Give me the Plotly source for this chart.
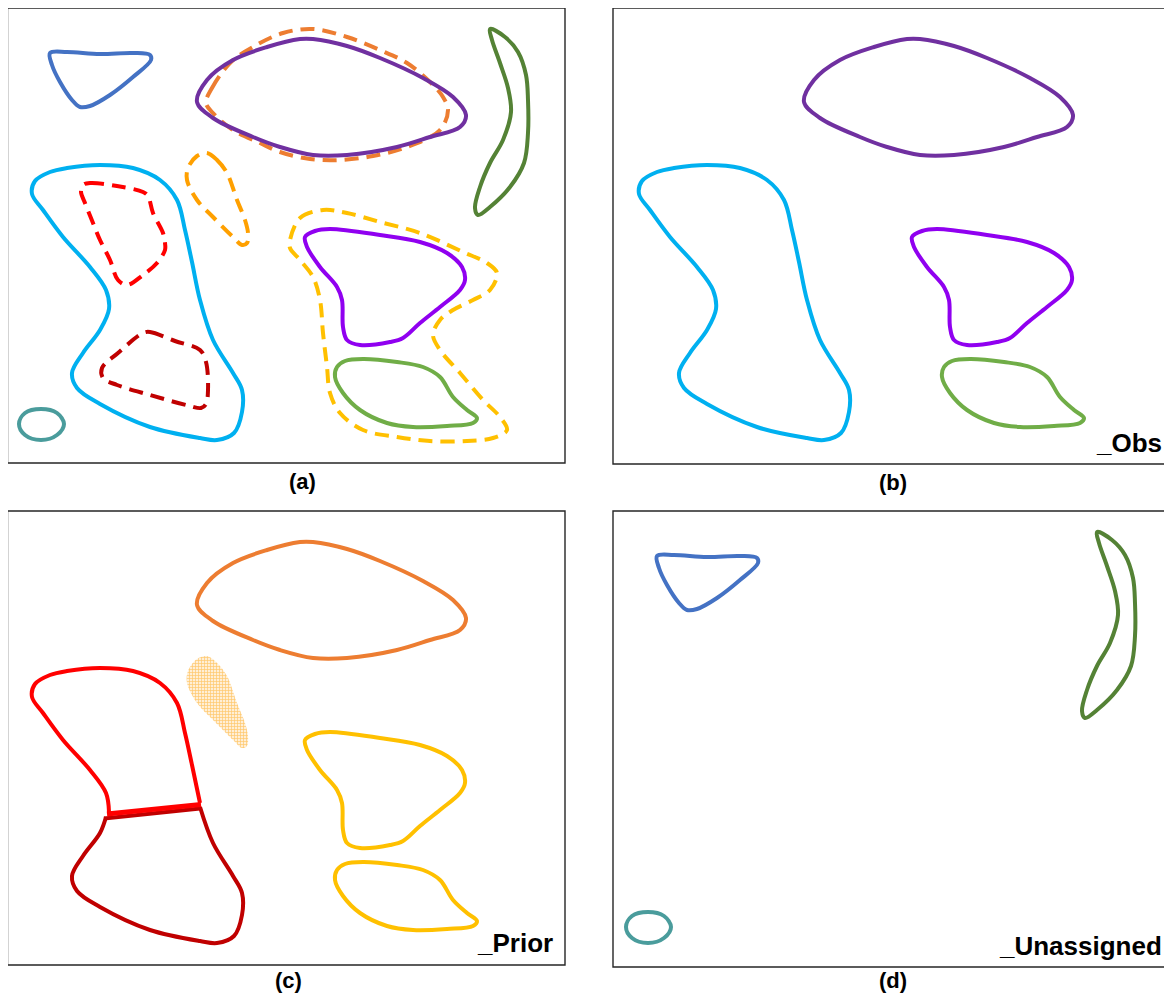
import plotly.graph_objects as go

# ---------------- shape contours (local coordinates of panel (a), pixels) ----------------
BLUE_X = [50, 67, 100, 133, 150, 151, 133, 110, 90, 80, 72, 60, 52]
BLUE_Y = [53, 52, 54, 53, 55, 60, 77, 95, 106, 107, 100, 82, 65]

PURPLE_BIG_X = [197, 207, 233, 267, 300, 313, 347, 380, 423, 453, 466, 460, 430, 397, 347, 313, 280, 253, 213]
PURPLE_BIG_Y = [102, 80, 60, 47, 39, 39, 46, 58, 78, 97, 115, 127, 137, 147, 155, 155, 147, 137, 118]

ORANGE_BIG_X = [206, 212, 230, 253, 283, 313, 347, 380, 407, 430, 443, 448, 440, 407, 373, 340, 310, 280, 260, 233, 213]
ORANGE_BIG_Y = [103, 88, 63, 47, 33, 29, 37, 50, 63, 82, 97, 110, 130, 147, 156, 160, 159, 152, 143, 130, 113]

GREEN_LEAF_X = [490, 505, 518, 526, 528, 528, 524, 510, 490, 478, 475, 480, 490, 503, 511, 508, 500, 492]
GREEN_LEAF_Y = [29, 37, 52, 75, 100, 133, 163, 187, 207, 215, 208, 187, 163, 140, 112, 88, 63, 40]

# cyan contour split at the cut: upper part (left cut -> over the top -> right cut)
CYAN_UP_X = [109, 106, 90, 63, 43, 32, 35, 50, 67, 100, 133, 160, 177, 185, 192, 200]
CYAN_UP_Y = [309, 290, 267, 237, 210, 194, 181, 172, 168, 165, 168, 180, 200, 230, 262, 300]
# lower part (right cut -> round the bottom -> left cut)
CYAN_LO_X = [200, 213, 233, 242, 242, 234, 217, 200, 150, 100, 77, 72, 83, 100, 106]
CYAN_LO_Y = [304, 340, 373, 390, 412, 433, 440, 438, 427, 404, 388, 373, 353, 330, 314]

RED_DASH_X = [83, 90, 117, 143, 148, 153, 163, 165, 165, 157, 143, 127, 118, 110, 100, 93, 85, 81]
RED_DASH_Y = [185, 183, 186, 192, 196, 213, 233, 243, 250, 263, 275, 285, 280, 260, 240, 223, 203, 192]

DARKRED_DASH_X = [143, 150, 175, 200, 206, 208, 206, 201, 190, 150, 117, 103, 102, 118]
DARKRED_DASH_Y = [333, 332, 341, 350, 362, 390, 404, 408, 406, 395, 385, 378, 368, 353]

TEAL_X = [19, 25, 41, 57, 64, 57, 41, 25]
TEAL_Y = [424, 413, 409, 413, 424, 435, 440, 435]

ORANGE_BLOB_X = [207, 217, 227, 237, 245, 248, 247, 242, 233, 213, 197, 187, 188, 197]
ORANGE_BLOB_Y = [153, 160, 173, 200, 220, 233, 243, 245, 237, 217, 200, 180, 168, 156]

YELLOW_DASH_X = [290, 300, 323, 347, 380, 420, 463, 487, 497, 490, 473, 453, 440, 433, 440, 460, 483, 500, 507,
                 493, 467, 430, 397, 363, 340, 330, 327, 323, 320, 313, 300, 290]
YELLOW_DASH_Y = [240, 218, 210, 213, 222, 233, 252, 263, 273, 290, 300, 310, 320, 335, 350, 373, 400, 417, 430,
                 438, 441, 441, 437, 430, 413, 393, 367, 333, 300, 277, 260, 248]

VIOLET_X = [305, 315, 330, 380, 420, 447, 462, 465, 460, 440, 420, 403, 390, 360, 347, 343, 342, 337, 320, 307]
VIOLET_Y = [237, 231, 229, 235, 242, 253, 267, 280, 290, 307, 323, 338, 342, 345, 340, 327, 300, 287, 267, 247]

GREEN_LOW_X = [337, 345, 363, 397, 423, 440, 453, 467, 477, 473, 447, 413, 387, 360, 343, 335]
GREEN_LOW_Y = [367, 361, 359, 362, 367, 377, 397, 410, 418, 423, 426, 427, 423, 410, 393, 377]

# cut lines of panel (c)
CUT_RED_X = [107, 201]
CUT_RED_Y = [311, 301.5]
CUT_DARK_X = [104, 200]
CUT_DARK_Y = [315.5, 305.5]

# panels
PANEL_LABELS = ["(a)", "(b)", "(c)", "(d)"]
PANEL_TAGS = ["", "_Obs", "_Prior", "_Unassigned"]

C_BLUE = "#4472C4"
C_PURPLE = "#7030A0"
C_ORANGE = "#ED7D31"
C_DGREEN = "#548235"
C_CYAN = "#00B0F0"
C_RED = "#FF0000"
C_DRED = "#C00000"
C_TEAL = "#4A9C9C"
C_AMBER = "#FFA000"
C_YELLOW = "#FFC000"
C_VIOLET = "#9000F0"
C_LGREEN = "#70AD47"

LW = 4
DASH = "14px,8px"

fig = go.Figure()


def add_closed(xs, ys, dx, dy, color, dash="solid", width=LW):
    px = [x + dx for x in xs] + [xs[0] + dx]
    py = [y + dy for y in ys] + [ys[0] + dy]
    fig.add_trace(go.Scatter(x=px, y=py, mode="lines",
                             line=dict(color=color, width=width, dash=dash, shape="spline", smoothing=1.0),
                             hoverinfo="skip", showlegend=False))


def add_open(xs, ys, dx, dy, color, width=LW, shape="spline"):
    fig.add_trace(go.Scatter(x=[x + dx for x in xs], y=[y + dy for y in ys], mode="lines",
                             line=dict(color=color, width=width, shape=shape, smoothing=1.0),
                             hoverinfo="skip", showlegend=False))


# full cyan contour = upper part + lower part (without duplicated end points)
CYAN_X = CYAN_UP_X + CYAN_LO_X[1:-1]
CYAN_Y = CYAN_UP_Y + CYAN_LO_Y[1:-1]

# ---- panel (a) ----
ax, ay = 0, 0
add_closed(BLUE_X, BLUE_Y, ax, ay, C_BLUE)
add_closed(ORANGE_BIG_X, ORANGE_BIG_Y, ax, ay, C_ORANGE, DASH)
add_closed(PURPLE_BIG_X, PURPLE_BIG_Y, ax, ay, C_PURPLE)
add_closed(GREEN_LEAF_X, GREEN_LEAF_Y, ax, ay, C_DGREEN)
add_closed(CYAN_X, CYAN_Y, ax, ay, C_CYAN)
add_closed(RED_DASH_X, RED_DASH_Y, ax, ay, C_RED, DASH)
add_closed(DARKRED_DASH_X, DARKRED_DASH_Y, ax, ay, C_DRED, DASH)
add_closed(TEAL_X, TEAL_Y, ax, ay, C_TEAL)
add_closed(ORANGE_BLOB_X, ORANGE_BLOB_Y, ax, ay, C_AMBER, DASH)
add_closed(YELLOW_DASH_X, YELLOW_DASH_Y, ax, ay, C_YELLOW, DASH)
add_closed(VIOLET_X, VIOLET_Y, ax, ay, C_VIOLET)
add_closed(GREEN_LOW_X, GREEN_LOW_Y, ax, ay, C_LGREEN)

# ---- panel (b) ----
bx, by = 607, 0
add_closed(PURPLE_BIG_X, PURPLE_BIG_Y, bx, by, C_PURPLE)
add_closed(CYAN_X, CYAN_Y, bx, by, C_CYAN)
add_closed(VIOLET_X, VIOLET_Y, bx, by, C_VIOLET)
add_closed(GREEN_LOW_X, GREEN_LOW_Y, bx, by, C_LGREEN)

# ---- panel (c) ----
cx, cy = 0, 503
add_closed(PURPLE_BIG_X, PURPLE_BIG_Y, cx, cy, C_ORANGE)
add_open(CYAN_UP_X, CYAN_UP_Y, cx, cy, C_RED)
add_open(CYAN_LO_X, CYAN_LO_Y, cx, cy, C_DRED)
add_open(CUT_DARK_X, CUT_DARK_Y, cx, cy, C_DRED, width=4, shape="linear")
add_open(CUT_RED_X, CUT_RED_Y, cx, cy, C_RED, width=5, shape="linear")
fig.add_trace(go.Scatter(
    x=[x + cx for x in ORANGE_BLOB_X] + [ORANGE_BLOB_X[0] + cx],
    y=[y + cy for y in ORANGE_BLOB_Y] + [ORANGE_BLOB_Y[0] + cy],
    mode="lines", fill="toself",
    line=dict(width=0, color="rgba(0,0,0,0)", shape="spline", smoothing=1.0),
    fillcolor="#FFE9C8",
    fillpattern=dict(shape="+", fgcolor="#FFA000", bgcolor="#FFEFD6", size=3, solidity=0.4),
    hoverinfo="skip", showlegend=False))
add_closed(VIOLET_X, VIOLET_Y, cx, cy, C_YELLOW)
add_closed(GREEN_LOW_X, GREEN_LOW_Y, cx, cy, C_YELLOW)

# ---- panel (d) ----
dx, dy = 607, 503
add_closed(BLUE_X, BLUE_Y, dx, dy, C_BLUE)
add_closed(GREEN_LEAF_X, GREEN_LEAF_Y, dx, dy, C_DGREEN)
add_closed(TEAL_X, TEAL_Y, dx, dy, C_TEAL)

# ---- frames, labels ----
FRAMES = [(7.5, 8, 565, 463), (613, 8, 1171, 464), (7.5, 511, 565, 965), (613, 511, 1171, 967)]
LABEL_POS = [(302, 481), (893, 482), (288, 980), (893, 980)]
TAG_POS = [(0, 0), (1164, 443), (555, 943), (1164, 946)]

for i, (x0, y0, x1, y1) in enumerate(FRAMES):
    fig.add_shape(type="rect", x0=x0, y0=y0, x1=x1, y1=y1, xref="x", yref="y",
                  line=dict(color="#262626", width=1.4), fillcolor="rgba(0,0,0,0)", layer="below")
    lx, ly = LABEL_POS[i]
    fig.add_annotation(x=lx, y=ly, xref="x", yref="y", text="<b>" + PANEL_LABELS[i] + "</b>",
                       showarrow=False, borderpad=0,
                       font=dict(family="Arial, Liberation Sans", size=22, color="black"))
    if PANEL_TAGS[i]:
        tx, ty = TAG_POS[i]
        fig.add_annotation(x=tx, y=ty, xref="x", yref="y", text="<b>" + PANEL_TAGS[i] + "</b>",
                           xanchor="right", showarrow=False,
                           font=dict(family="Arial, Liberation Sans", size=26, color="black"))

# the page body keeps an 8 px margin, so the plot is 8 px smaller and its axes start at 8
fig.update_layout(
    width=1164, height=987,
    margin=dict(l=0, r=0, t=0, b=0),
    paper_bgcolor="white", plot_bgcolor="white",
    xaxis=dict(range=[8, 1172], visible=False, showgrid=False, zeroline=False, fixedrange=True),
    yaxis=dict(range=[995, 8], visible=False, showgrid=False, zeroline=False, fixedrange=True),
    showlegend=False,
)

fig.write_html("out.html")
